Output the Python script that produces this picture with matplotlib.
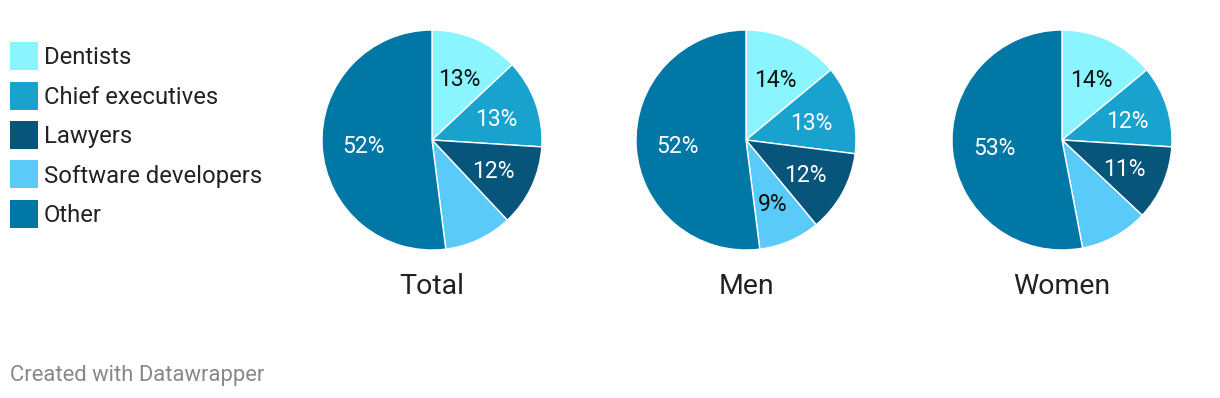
import matplotlib
matplotlib.use("Agg")
import matplotlib.pyplot as plt
from matplotlib.patches import Rectangle
import numpy as np

plt.rcParams['font.family'] = ['Roboto', 'DejaVu Sans']

categories = ["Dentists", "Chief executives", "Lawyers", "Software developers", "Other"]
colors = ["#8af4ff", "#19a2ce", "#08557b", "#5acaf8", "#0077a4"]
label_colors = ["#111111", "white", "white", "#111111", "white"]

chart_titles = ["Total", "Men", "Women"]
total_values = [13, 13, 12, 10, 52]
men_values = [14, 13, 12, 9, 52]
women_values = [14, 12, 11, 10, 53]
total_labels = ["13%", "13%", "12%", "", "52%"]
men_labels = ["14%", "13%", "12%", "9%", "52%"]
women_labels = ["14%", "12%", "11%", "", "53%"]

W, H = 1220, 398
fig = plt.figure(figsize=(W / 100, H / 100), dpi=100)

centers_x = [432, 746, 1062]
cy = 140
R = 110

for cx, title, vals, labs in zip(centers_x, chart_titles,
                                 [total_values, men_values, women_values],
                                 [total_labels, men_labels, women_labels]):
    ax = fig.add_axes([(cx - R) / W, 1 - (cy + R) / H, 2 * R / W, 2 * R / H])
    wedges, _ = ax.pie(vals, colors=colors, startangle=90, counterclock=False,
                       radius=1, wedgeprops=dict(edgecolor="white", linewidth=1))
    cum = np.cumsum([0] + vals[:-1])
    tot = sum(vals)
    for v, c0, lab, lc in zip(vals, cum, labs, label_colors):
        if not lab:
            continue
        mid = (c0 + v / 2) / tot * 2 * np.pi
        r = 0.62
        x = r * np.sin(mid)
        y = r * np.cos(mid)
        ax.text(x, y - 0.02, lab, ha="center", va="center", color=lc, fontsize=16.5)
    ax.set_xlim(-1, 1)
    ax.set_ylim(-1, 1)
    ax.set_aspect("equal")
    ax.axis("off")
    fig.text(cx / W, 1 - 287 / H, title, ha="center", va="center", fontsize=20.5, color="#222222")

# legend
leg_y = [56, 96, 135, 174, 214]
for cat, col, y in zip(categories, colors, leg_y):
    fig.patches.append(Rectangle((10 / W, 1 - (y + 14) / H), 28 / W, 28 / H,
                                 transform=fig.transFigure, facecolor=col, edgecolor="none"))
    fig.text(44 / W, 1 - (y + 2) / H, cat, ha="left", va="center", fontsize=17.2, color="#222222")

fig.text(10 / W, 1 - 376 / H, "Created with Datawrapper", ha="left", va="center",
         fontsize=15.8, color="#888888")

fig.savefig("out.png", dpi=100, facecolor="white")
